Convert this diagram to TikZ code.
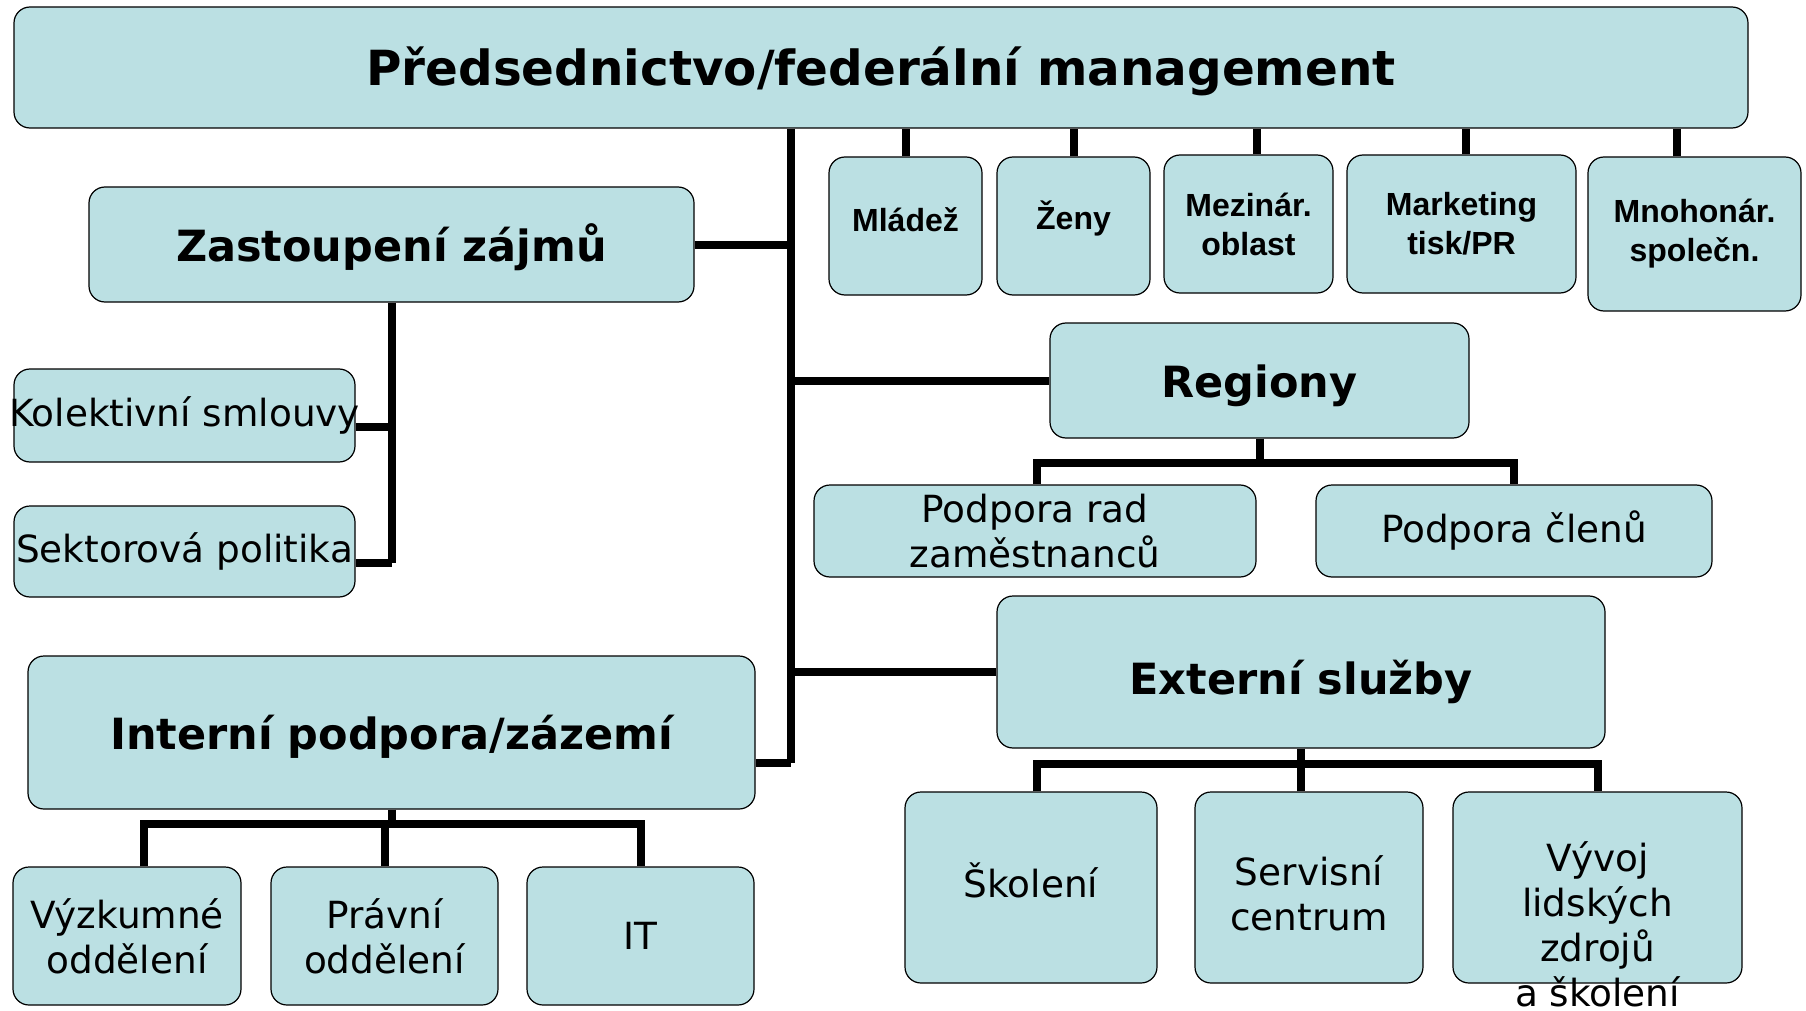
\documentclass[tikz,border=0pt]{standalone}
\usepackage{fontspec}
\setmainfont{DejaVu Sans}
\newfontfamily\arialfont{Liberation Sans}
\usepackage{tikz}
\usetikzlibrary{positioning}
\usepackage{xcolor}
\definecolor{boxblue}{RGB}{187,224,227}
\newcommand{\titlefont}{\fontsize{24.2}{29}\selectfont\bfseries}
\newcommand{\headfont}{\fontsize{21.5}{26}\selectfont\bfseries}
\newcommand{\bodyfont}{\fontsize{18.7}{22.5}\selectfont}
\newcommand{\tagfont}{\arialfont\fontsize{16}{19.5}\selectfont\bfseries}

\begin{document}
\begin{tikzpicture}[x=0.5pt,y=-0.5pt,
		box/.style={draw=black,line width=0.6pt,fill=boxblue,rounded corners=8pt,
			inner sep=0pt,align=center,font=\bodyfont},
		headbox/.style={box,font=\headfont,text height=21pt,text depth=4.5pt},
		tagbox/.style={box,font=\tagfont},
		conn/.style={draw=black,line width=4pt}]
		\useasboundingbox (0,0) rectangle (1806,1011);
		
		% head
		\node[box,minimum width=867pt,minimum height=60.5pt,font=\titlefont,
		text height=23pt,text depth=5pt] (top) at (881,67.5)
		{Předsednictvo/federální management};
		
		% left branch
		\node[headbox,minimum width=302.5pt,minimum height=57.5pt] (zast) at (391.5,244.5)
		{Zastoupení zájmů};
		\node[box,minimum width=170.5pt,minimum height=46.5pt] (kol) at (184.5,415.5)
		{\makebox[0pt]{Kolektivní smlouvy}};
		\node[box,minimum width=170.5pt,minimum height=45.5pt] (sek) at (184.5,551.5)
		{\makebox[0pt]{Sektorová politika}};
		
		\node[headbox,minimum width=363.5pt,minimum height=76.5pt] (intr) at (391.5,732.5)
		{Interní podpora/zázemí};
		\node[box,minimum width=114pt,minimum height=69pt] (vyz) at (127,936)
		{Výzkumné\\oddělení};
		\node[box,minimum width=113.5pt,minimum height=69pt] (prav) at (384.5,936)
		{Právní\\oddělení};
		\node[box,minimum width=113.5pt,minimum height=69pt] (it) at (640.5,936)
		{IT};
		
		% small units under the head
		\node[tagbox,minimum width=76.5pt,minimum height=69pt,text height=14pt,text depth=8pt] (mlad) at (905.5,226) {Mládež};
		\node[tagbox,minimum width=76.5pt,minimum height=69pt,text height=14pt,text depth=11pt] (zeny) at (1073.5,226) {Ženy};
		\node[tagbox,minimum width=84.5pt,minimum height=69pt] (mezi) at (1248.5,224) {Mezinár.\\oblast};
		\node[tagbox,minimum width=114.5pt,minimum height=69pt] (mark) at (1461.5,224) {Marketing\\tisk/PR};
		\node[tagbox,minimum width=106.5pt,minimum height=77pt] (mnoh) at (1694.5,234) {Mnohonár.\\společn.};
		
		% right branch
		\node[headbox,minimum width=209.5pt,minimum height=57.5pt] (reg) at (1259.5,380.5)
		{Regiony};
		\node[box,minimum width=221pt,minimum height=46pt] (prad) at (1035,531)
		{Podpora rad\\zaměstnanců};
		\node[box,minimum width=198pt,minimum height=46pt] (pcl) at (1514,531)
		{Podpora členů};
		
		\node[headbox,minimum width=304pt,minimum height=76pt,text height=27pt] (ext) at (1301,672)
		{Externí služby};
		\node[box,minimum width=126pt,minimum height=95.5pt,text height=14pt,text depth=4.5pt] (skol) at (1031,887.5)
		{Školení};
		\node[box,minimum width=114pt,minimum height=95.5pt,
		label={[font=\bodyfont,align=center,yshift=-3pt]center:Servisní\\centrum}] (serv) at (1309,887.5)
		{};
		\node[box,minimum width=144.5pt,minimum height=95.5pt,
		label={[font=\bodyfont,align=center,yshift=-18.5pt]center:Vývoj\\lidských\\zdrojů\\a školení}] (vyv) at (1597.5,887.5) {};
		
		% trunk
		\coordinate (trk) at (791,0);
		\draw[conn] (top.south -| trk) -- ([yshift=-15pt]intr.east -| trk);
		\draw[conn] (zast.east) -- (zast.east -| trk);
		\draw[conn] (reg.west) -- (reg.west -| trk);
		\draw[conn] (ext.west) -- (ext.west -| trk);
		\draw[conn] ([yshift=-15pt]intr.east) -- ([yshift=-15pt]intr.east -| trk);
		
		% stubs from the head
		\foreach \n/\dx in {mlad/0,zeny/0,mezi/4,mark/2,mnoh/-9}
		\draw[conn] ([xshift=\dx pt]\n.north) -- ([xshift=\dx pt]\n.north |- top.south);
		
		% Zastoupení zájmů
		\draw[conn] (zast.south) -- ([yshift=-5.5pt]sek.east -| zast.south);
		\draw[conn] ([yshift=-5.5pt]kol.east) -- ([yshift=-5.5pt]kol.east -| zast.south);
		\draw[conn] ([yshift=-5.5pt]sek.east) -- ([yshift=-5.5pt]sek.east -| zast.south);
		
		% Regiony
		\draw[conn] (reg.south) -- +(0,-12pt) coordinate (regbus);
		\draw[conn] ([xshift=1pt]prad.north) |- (regbus) -| (pcl.north);
		
		% Interní podpora
		\draw[conn] (intr.south) -- +(0,-7pt) coordinate (intbus);
		\draw[conn] ([xshift=8.5pt]vyz.north) |- (intbus) -| (it.north);
		\draw[conn] (prav.north) -- (prav.north |- intbus);
		
		% Externí služby
		\draw[conn] (ext.south) -- +(0,-7.5pt) coordinate (extbus);
		\draw[conn] ([xshift=3pt]skol.north) |- (extbus) -| (vyv.north);
		\draw[conn] ([xshift=-4pt]serv.north) -- ([xshift=-4pt]serv.north |- extbus);
	\end{tikzpicture}
\end{document}
